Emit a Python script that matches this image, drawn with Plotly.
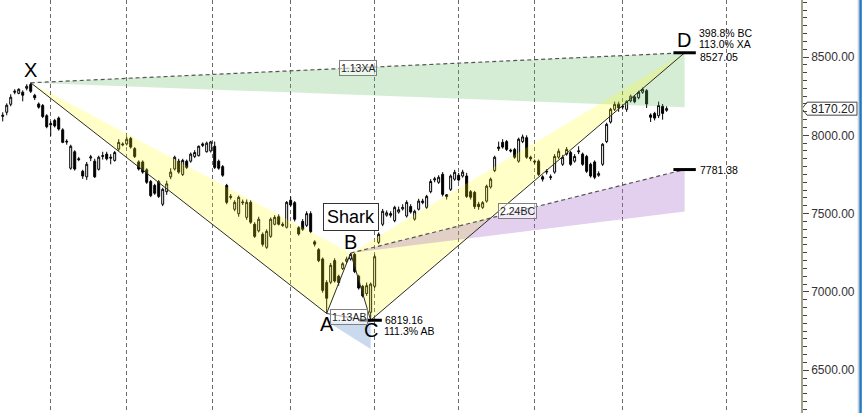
import plotly.graph_objects as go

# ---------------- data ----------------
opens = [8121, 8147, 8198, 8275, 8268, 8275, 8300, 8325, 8255, 8200,
         8190, 8125, 8075, 8095, 8110, 8035, 7962, 7790, 7895, 7850,
         7770, 7735, 7855, 7835, 7783, 7865, 7880, 7860, 7840, 7912,
         7945, 7945, 7980, 7915, 7830, 7830, 7780, 7705, 7680, 7705,
         7560, 7640, 7735, 7785, 7835, 7750, 7835, 7835, 7865, 7870,
         7935, 7895, 7900, 7930, 7835, 7800, 7680, 7610, 7528, 7500,
         7575, 7476, 7572, 7432, 7390, 7368, 7285, 7355, 7432, 7480,
         7432, 7413, 7585, 7570, 7410, 7450, 7425, 7500, 7320, 7270,
         7210, 7060, 7062, 7200, 7100, 7150, 7195, 7210, 7240, 7100,
         7036, 6990, 6870, 7036, 7317, 7432, 7490, 7500, 7455, 7510,
         7530, 7485, 7545, 7465, 7528, 7570, 7540, 7640, 7715, 7700,
         7751, 7620, 7655, 7720, 7745, 7740, 7740, 7640, 7635, 7560,
         7540, 7580, 7670, 7775, 7915, 7955, 7960, 7905, 7910, 7835,
         7960, 7985, 7860, 7835, 7835, 7735, 7765, 7730, 7765, 7860,
         7815, 7880, 7890, 7835, 7895, 7880, 7865, 7815, 7830, 7745,
         7815, 7960, 8085, 8166, 8200, 8180, 8166, 8220, 8245, 8240,
         8275, 8285, 8130, 8140, 8125, 8185, 8160]
highs = [8147, 8204, 8262, 8294, 8300, 8287, 8326, 8336, 8265, 8210,
         8200, 8135, 8090, 8105, 8120, 8045, 7975, 7940, 7905, 7862,
         7780, 7830, 7875, 7850, 7870, 7895, 7895, 7880, 7900, 7975,
         7955, 7990, 7990, 7925, 7840, 7840, 7790, 7715, 7690, 7715,
         7665, 7710, 7790, 7870, 7850, 7850, 7845, 7890, 7905, 7935,
         7955, 7960, 7965, 7960, 7845, 7810, 7690, 7625, 7585, 7615,
         7590, 7590, 7585, 7445, 7480, 7380, 7400, 7475, 7490, 7495,
         7445, 7580, 7610, 7580, 7420, 7465, 7515, 7515, 7330, 7280,
         7220, 7075, 7185, 7215, 7110, 7190, 7225, 7248, 7248, 7110,
         7045, 7060, 7060, 7240, 7380, 7530, 7520, 7515, 7550, 7545,
         7560, 7585, 7560, 7525, 7595, 7595, 7620, 7720, 7735, 7745,
         7765, 7625, 7750, 7780, 7760, 7780, 7760, 7650, 7645, 7575,
         7580, 7685, 7730, 7870, 7960, 7975, 7970, 7915, 7920, 7985,
         8005, 8000, 7870, 7845, 7845, 7745, 7785, 7750, 7880, 7915,
         7875, 7925, 7900, 7880, 7930, 7890, 7875, 7825, 7840, 7770,
         7950, 8080, 8175, 8215, 8215, 8200, 8225, 8260, 8255, 8285,
         8305, 8295, 8140, 8150, 8215, 8200, 8185]
lows = [8089, 8128, 8185, 8262, 8262, 8217, 8287, 8270, 8225, 8170,
        8110, 8045, 7995, 8050, 8030, 7950, 7940, 7780, 7775, 7835,
        7722, 7715, 7835, 7728, 7775, 7845, 7840, 7815, 7832, 7900,
        7930, 7935, 7915, 7855, 7775, 7755, 7690, 7605, 7620, 7600,
        7548, 7620, 7720, 7775, 7755, 7740, 7785, 7825, 7855, 7865,
        7925, 7890, 7890, 7785, 7780, 7735, 7560, 7590, 7515, 7480,
        7555, 7460, 7435, 7345, 7380, 7290, 7275, 7345, 7425, 7425,
        7415, 7405, 7545, 7450, 7360, 7390, 7415, 7375, 7290, 7190,
        6995, 6862.6, 7050, 7060, 7040, 7140, 7185, 7200, 7120, 7015,
        6965, 6975, 6819.16, 7025, 7305, 7420, 7480, 7475, 7445, 7500,
        7520, 7475, 7500, 7455, 7520, 7560, 7530, 7630, 7700, 7690,
        7610, 7590, 7645, 7710, 7705, 7730, 7600, 7590, 7530, 7525,
        7530, 7570, 7660, 7765, 7900, 7915, 7900, 7890, 7850, 7825,
        7950, 7850, 7835, 7815, 7740, 7705, 7750, 7715, 7755, 7850,
        7805, 7870, 7805, 7825, 7880, 7805, 7760, 7730, 7720, 7735,
        7805, 7950, 8075, 8155, 8150, 8165, 8150, 8210, 8205, 8230,
        8265, 8175, 8085, 8095, 8110, 8100, 8150]
closes = [8128, 8192, 8243, 8281, 8294, 8256, 8313, 8281, 8240, 8180,
          8120, 8055, 8068, 8060, 8040, 7955, 7958, 7930, 7785, 7845,
          7740, 7815, 7862, 7735, 7860, 7870, 7850, 7855, 7890, 7955,
          7940, 7975, 7925, 7865, 7785, 7765, 7700, 7615, 7630, 7610,
          7655, 7690, 7765, 7860, 7765, 7840, 7795, 7880, 7890, 7930,
          7945, 7950, 7958, 7795, 7790, 7745, 7572, 7605, 7572, 7604,
          7570, 7572, 7445, 7355, 7464, 7304, 7387, 7464, 7476, 7432,
          7425, 7572, 7555, 7464, 7370, 7400, 7500, 7385, 7305, 7200,
          7010, 6960, 7170, 7070, 7060, 7180, 7210, 7240, 7130, 7025,
          6975, 7040, 7050, 7225, 7368, 7515, 7505, 7490, 7540, 7525,
          7540, 7572, 7510, 7515, 7580, 7580, 7610, 7705, 7722, 7732,
          7623, 7610, 7740, 7764, 7715, 7765, 7610, 7605, 7545, 7545,
          7570, 7675, 7720, 7860, 7925, 7925, 7910, 7900, 7860, 7975,
          7990, 7860, 7850, 7830, 7750, 7720, 7770, 7735, 7865, 7898,
          7860, 7910, 7815, 7865, 7900, 7815, 7770, 7740, 7732, 7755,
          7943, 8070, 8166, 8198, 8175, 8185, 8217, 8250, 8215, 8275,
          8294, 8200, 8115, 8110, 8190, 8140, 8170.20]
bars = list(range(len(closes)))

# harmonic pattern points (bar index, price)
pattern_labels = ["X", "A", "B", "C", "D"]
pattern_idx = [7, 81, 87, 92, 170.5]
pattern_price = [8335.6, 6862.6, 7248.0, 6819.16, 8527.05]

xa_zone_low = 8180.0      # lower edge of the green D zone
bc_target = 7781.38       # 2.24 BC projection
bc_zone_low = 7514.0      # 1.618 BC projection
ab_113 = 6812.5           # 1.13 AB
ab_1618 = 6635.0          # 1.618 AB

month_lines = [12, 31, 52.5, 72, 93, 114, 133, 155, 181]
price_ticks = [6500, 7000, 7500, 8000, 8500]
last_price = 8170.20

# ---------------- figure ----------------
Y0, Y1 = 6227, 8864
PLOT_H = 413
ppx = (Y1 - Y0) / PLOT_H   # price per pixel
FONT = "Liberation Sans, Arial, sans-serif"

X, A, B, C, D = [(i, p) for i, p in zip(pattern_idx, pattern_price)]

fig = go.Figure()
fig.add_trace(go.Candlestick(
    x=bars, open=opens, high=highs, low=lows, close=closes,
    increasing=dict(line=dict(color="black", width=1), fillcolor="white"),
    decreasing=dict(line=dict(color="black", width=1), fillcolor="black"),
    whiskerwidth=0, showlegend=False, hoverinfo="skip"))


def poly(pts, color):
    xs = [p[0] for p in pts] + [pts[0][0]]
    ys = [p[1] for p in pts] + [pts[0][1]]
    fig.add_trace(go.Scatter(x=xs, y=ys, mode="lines", fill="toself",
                             fillcolor=color, line=dict(width=0),
                             showlegend=False, hoverinfo="skip"))


def line(pts, color, width=1, dash="solid"):
    fig.add_trace(go.Scatter(x=[p[0] for p in pts], y=[p[1] for p in pts],
                             mode="lines", line=dict(color=color, width=width, dash=dash),
                             showlegend=False, hoverinfo="skip"))


# fills
poly([X, D, (D[0], xa_zone_low)], "rgba(100,190,100,0.27)")
poly([X, A, B], "rgba(255,255,0,0.22)")
poly([B, C, D], "rgba(255,255,0,0.22)")
poly([B, (D[0], bc_target), (D[0], bc_zone_low)], "rgba(160,100,200,0.30)")
poly([(A[0], ab_113), (C[0], ab_113), (C[0], ab_1618)], "rgba(100,150,210,0.35)")

# lines
line([X, D], "#555555", 1.2, "4px,3px")
line([B, (D[0], bc_target)], "#555555", 1.2, "4px,3px")
line([A, (C[0], ab_113)], "#444444", 1)
line([X, A, B, C, D], "#2a2a2a", 1)

# thick level bars
line([(C[0] - 2.8, C[1]), (C[0] + 2.8, C[1])], "black", 3)
line([(D[0] - 2.8, D[1]), (D[0] + 2.8, D[1])], "black", 3)
line([(D[0] - 2.8, bc_target), (D[0] + 2.8, bc_target)], "black", 3)

ann = []
# point letters
shifts = {"X": 13, "A": -11, "B": 11, "C": -10, "D": 13}
for lab, (i, p) in zip(pattern_labels, zip(pattern_idx, pattern_price)):
    ann.append(dict(x=i, y=p, text=lab, showarrow=False, yshift=shifts[lab],
                    xshift=-1 if lab == "D" else 0,
                    font=dict(family=FONT, size=20, color="black")))

# ratio boxes
box = dict(showarrow=False, bordercolor="#808080", borderwidth=1, borderpad=1,
           bgcolor="rgba(255,255,255,0.55)", font=dict(family=FONT, size=10.5, color="#222"))
ann.append(dict(x=(X[0] + D[0]) / 2, y=(X[1] + D[1]) / 2, text="1.13XA", **box))
ann.append(dict(x=(B[0] + D[0]) / 2, y=(B[1] + bc_target) / 2, text="2.24BC", **box))
ann.append(dict(x=(A[0] + C[0]) / 2, y=(A[1] + ab_113) / 2, text="1.13AB", **box))
ann.append(dict(x=B[0], y=B[1], yshift=36, text="Shark", showarrow=False,
                bordercolor="#333", borderwidth=1, borderpad=3, bgcolor="white",
                font=dict(family=FONT, size=18, color="black")))

# level texts
small = dict(family=FONT, size=10.5, color="black")
ann.append(dict(x=C[0] + 3.2, y=C[1], text="6819.16", xanchor="left", showarrow=False,
                yshift=0, font=small))
ann.append(dict(x=C[0] + 2.8, y=C[1], text="111.3% AB", xanchor="left", showarrow=False,
                yshift=-11, font=small))
ann.append(dict(x=D[0] + 3.3, y=bc_target, text="7781.38", xanchor="left", showarrow=False,
                font=small))
ann.append(dict(x=D[0] + 3.3, y=D[1], text="8527.05", xanchor="left", showarrow=False,
                yshift=-4, font=small))
ann.append(dict(x=D[0] + 3.0, y=D[1], text="113.0% XA", xanchor="left", showarrow=False,
                yshift=9, font=small))
ann.append(dict(x=D[0] + 3.0, y=D[1], text="398.8% BC", xanchor="left", showarrow=False,
                yshift=20, font=small))

# last price tag on the axis
W = 801.0
h = 6.5 * ppx
px = lambda v: 1 + v / W
tag = (f"M {px(1)},{last_price} L {px(6)},{last_price + h} L {px(56)},{last_price + h} "
       f"L {px(56)},{last_price - h} L {px(6)},{last_price - h} Z")
shapes = [
    dict(type="path", xref="paper", yref="y", path=tag,
         line=dict(color="#444", width=1), fillcolor="white", layer="below"),
    dict(type="rect", xref="paper", yref="paper", x0=px(56.8), x1=px(57.6), y0=0, y1=1,
         line=dict(width=0), fillcolor="#b0b0b0"),
    dict(type="rect", xref="paper", yref="paper", x0=px(58.3), x1=px(60.8), y0=0, y1=1,
         line=dict(width=0), fillcolor="#1f78c8"),
]
ann.append(dict(xref="paper", x=px(31.5), y=last_price, text=f"{last_price:.2f}",
                xanchor="center", showarrow=False,
                font=dict(family=FONT, size=12, color="#222")))

fig.update_layout(
    width=865, height=413, margin=dict(l=0, r=64, t=0, b=0),
    plot_bgcolor="white", paper_bgcolor="white", showlegend=False,
    annotations=ann, shapes=shapes,
    xaxis=dict(range=[-0.68, 199.6], tickvals=month_lines, showticklabels=False,
               ticks="", showgrid=True, gridcolor="#6a6a6a", gridwidth=1,
               griddash="4px,3px", zeroline=False, showline=False,
               rangeslider=dict(visible=False), fixedrange=True),
    yaxis=dict(side="right", range=[Y0, Y1], tickvals=price_ticks, tickformat=".2f",
               ticks="outside", ticklen=6, tickcolor="#444", showgrid=False,
               showline=True, linecolor="#a3a38c", linewidth=1.5, zeroline=False,
               tickfont=dict(family=FONT, size=12, color="#333"),
               minor=dict(dtick=50, ticks="outside", ticklen=4, tickcolor="#444",
                          showgrid=False),
               fixedrange=True),
)

fig.write_html("out.html", config={"displayModeBar": False})

# remove the browser's default page margin so the figure sits at the top-left corner
with open("out.html", encoding="utf-8") as f:
    html = f.read()
html = html.replace("<head>", "<head><style>html,body{margin:0;padding:0;overflow:hidden;}</style>", 1)
with open("out.html", "w", encoding="utf-8") as f:
    f.write(html)
